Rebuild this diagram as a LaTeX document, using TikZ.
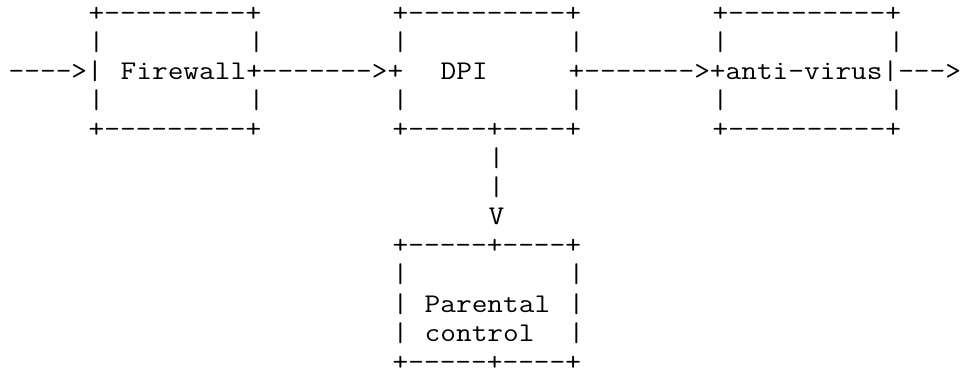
\documentclass[tikz,border=0pt]{standalone}
\usepackage{fontspec}
\setmonofont{Latin Modern Mono}
\usepackage{graphicx}

% run of n hyphens, kept apart so no ligature forms
\newcommand\dsh[1]{\foreach\i in {1,...,#1}{-}}
% one fixed-pitch text run: name, column, row, characters
\newcommand\putrow[4]{%
  \node[asc] (#1) at ({8.7+16*#2},{-21-29.1*#3}) {\scalebox{1.1287}[1]{#4}};}

\tikzset{
  asc/.style={anchor=base west, inner sep=0pt, outer sep=0pt,
    text=black, font=\ttfamily\fontsize{27}{27}\selectfont}
}

\begin{document}
\begin{tikzpicture}[x=1pt,y=1pt]
\useasboundingbox (0,0) rectangle (960,-373);

% top edges of the three boxes
\putrow{fwtop}{5}{0}{+\dsh{9}+}
\putrow{dpitop}{24}{0}{+\dsh{10}+}
\putrow{avtop}{44}{0}{+\dsh{10}+}

% side walls above the text line
\putrow{fwla}{5}{1}{|}
\putrow{fwra}{15}{1}{|}
\putrow{dpila}{24}{1}{|}
\putrow{dpira}{35}{1}{|}
\putrow{avla}{44}{1}{|}
\putrow{avra}{55}{1}{|}

% the main line: input, Firewall, DPI, anti-virus, output
\putrow{input}{0}{2}{\dsh{4}>|}
\putrow{fw}{7}{2}{Firewall+\dsh{7}>+}
\putrow{dpi}{27}{2}{DPI}
\putrow{av}{35}{2}{+\dsh{7}>+anti\dsh{1}virus|\dsh{3}>}

% side walls below the text line
\putrow{fwlb}{5}{3}{|}
\putrow{fwrb}{15}{3}{|}
\putrow{dpilb}{24}{3}{|}
\putrow{dpirb}{35}{3}{|}
\putrow{avlb}{44}{3}{|}
\putrow{avrb}{55}{3}{|}

% bottom edges
\putrow{fwbot}{5}{4}{+\dsh{9}+}
\putrow{dpibot}{24}{4}{+\dsh{5}+\dsh{4}+}
\putrow{avbot}{44}{4}{+\dsh{10}+}

% branch from DPI down to parental control
\putrow{stema}{30}{5}{|}
\putrow{stemb}{30}{6}{|}
\putrow{stemhead}{30}{7}{V}

% parental control box
\putrow{pctop}{24}{8}{+\dsh{5}+\dsh{4}+}
\putrow{pcla}{24}{9}{|}
\putrow{pcra}{35}{9}{|}
\putrow{pclb}{24}{10}{|}
\putrow{pc}{26}{10}{Parental}
\putrow{pcrb}{35}{10}{|}
\putrow{pclc}{24}{11}{|}
\putrow{pcb}{26}{11}{control}
\putrow{pcrc}{35}{11}{|}
\putrow{pcbot}{24}{12}{+\dsh{5}+\dsh{4}+}
\end{tikzpicture}
\end{document}
